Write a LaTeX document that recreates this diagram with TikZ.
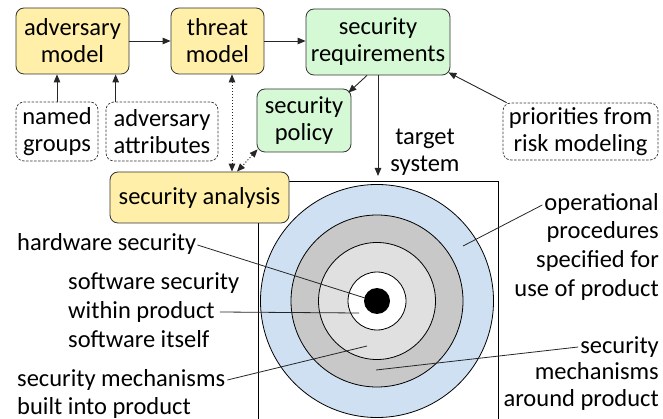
\documentclass[tikz,border=0pt]{standalone}
\usepackage{fontspec}
\setmainfont{Carlito}
\usetikzlibrary{arrows.meta}
\definecolor{yellowf}{HTML}{FFEFA8}
\definecolor{greenf}{HTML}{D5F9D5}
\definecolor{bluef}{HTML}{CFE0F2}
\definecolor{ringdark}{HTML}{C8C8C8}
\definecolor{ringlight}{HTML}{E0E0E0}
\begin{document}
\begin{tikzpicture}[x=1pt,y=-1pt,
  every node/.style={font=\fontsize{24.5}{27}\selectfont, inner sep=0pt, align=center},
  ybox/.style={draw=black!80, line width=0.8pt, rounded corners=8pt, fill=yellowf},
  gbox/.style={draw=black!80, line width=0.8pt, rounded corners=8pt, fill=greenf},
  dbox/.style={draw=black!80, line width=0.7pt, rounded corners=8pt, dash pattern=on 2.5pt off 1.5pt},
  arr/.style={-{Triangle[length=8pt,width=6.5pt]}, line width=0.9pt, draw=black!85},
  dotarr/.style={{Triangle[length=8pt,width=6.5pt]}-{Triangle[length=8pt,width=6.5pt]}, line width=1pt, dash pattern=on 1pt off 2pt, draw=black!85},
  leader/.style={line width=0.8pt, draw=black!85},
  ring/.style={draw=black, line width=0.8pt},
  ltext/.style={anchor=west, text height=17pt, text depth=5pt},
  rtext/.style={anchor=east, text height=17pt, text depth=5pt}
]
\useasboundingbox (0,0) rectangle (663,419);

% top boxes
\node[ybox, minimum width=113, minimum height=66] (adv) at (72.5,41) {adversary\\model};
\node[ybox, minimum width=93, minimum height=66] (thr) at (217.5,41) {threat\\model};
\node[gbox, minimum width=144, minimum height=66] (req) at (378,42) {security\\requirements};
\node[dbox, minimum width=82, minimum height=59] (ng) at (57,131.5) {named\\groups};
\node[dbox, minimum width=112, minimum height=59] (aa) at (162,131.5) {adversary\\attributes};
\node[gbox, minimum width=94, minimum height=63] (pol) at (304,120.5) {security\\policy};
\node[dbox, minimum width=155, minimum height=57] (pri) at (580.5,131.5) {priorities from\\risk modeling};
\node (tgt) at (425,152) {target\\system};

% target system frame
\draw[line width=0.8pt] (258,425) -- (258,181) -- (498,181) -- (498,425);

% rings
\coordinate (ctr) at (377,301);
\fill[bluef] (ctr) circle (116.5);
\draw[ring] (ctr) circle (116.5);
\filldraw[ring, fill=ringdark] (ctr) circle (86);
\filldraw[ring, fill=ringlight] (ctr) circle (58.5);
\filldraw[ring, fill=white] (ctr) circle (29);
\fill[black] (ctr) circle (13);

\node[ybox, minimum width=179, minimum height=51] (ana) at (199.5,197.5) {security analysis};

% arrows
\draw[arr] (ng.north) -- (ng.north |- adv.south);
\draw[arr] ([xshift=10pt]aa.north west) -- ([xshift=10pt]aa.north west |- adv.south);
\draw[arr] (adv.east) -- (thr.west);
\draw[arr] (thr.east) -- (thr.east -| req.west);
\draw[arr] ([xshift=-11pt]req.south) -- ([xshift=-3pt,yshift=-4pt]pol.north east);
\coordinate (tgtpt) at (378,176);
\draw[arr] (req.south) -- (tgtpt);
\draw[arr] ([xshift=4pt]pri.north west) -- ([xshift=-2pt,yshift=3pt]req.south east);
\draw[dotarr] ([xshift=14.5pt]thr.south) -- ([xshift=14.5pt]thr.south |- ana.north);
\draw[dotarr] ([xshift=1pt,yshift=3pt]pol.south west) -- ([xshift=37.5pt]ana.north);

% left labels
\node[ltext] (hw) at (17,245) {hardware security};
\node[ltext] (swA) at (68,283) {software security};
\node[ltext] (swB) at (68,312) {within product};
\node[ltext] (swC) at (68,341) {software itself};
\node[ltext] (smA) at (17,380) {security mechanisms};
\node[ltext] (smB) at (17,408) {built into product};

% right labels
\node[rtext] (opA) at (659,205) {operational};
\node[rtext] (opB) at (659,233) {procedures};
\node[rtext] (opC) at (659,262) {specified for};
\node[rtext] (opD) at (659,290) {use of product};
\node[rtext] (saA) at (659,347) {security};
\node[rtext] (saB) at (659,373) {mechanisms};
\node[rtext] (saC) at (659,400) {around product};

% leaders
\coordinate (phw) at (365,298);
\coordinate (psw) at (359,313);
\coordinate (psm) at (367,346);
\coordinate (pop) at (463,246);
\coordinate (psa) at (376,370);
\draw[leader] ([xshift=1pt]hw.east) -- (phw);
\draw[leader] ([xshift=5pt]swB.east) -- (psw);
\draw[leader] ([xshift=2pt]smA.east) -- (psm);
\draw[leader] ([xshift=-2pt]opA.west) -- (pop);
\draw[leader] ([xshift=-2pt]saA.west) -- (psa);
\end{tikzpicture}
\end{document}
